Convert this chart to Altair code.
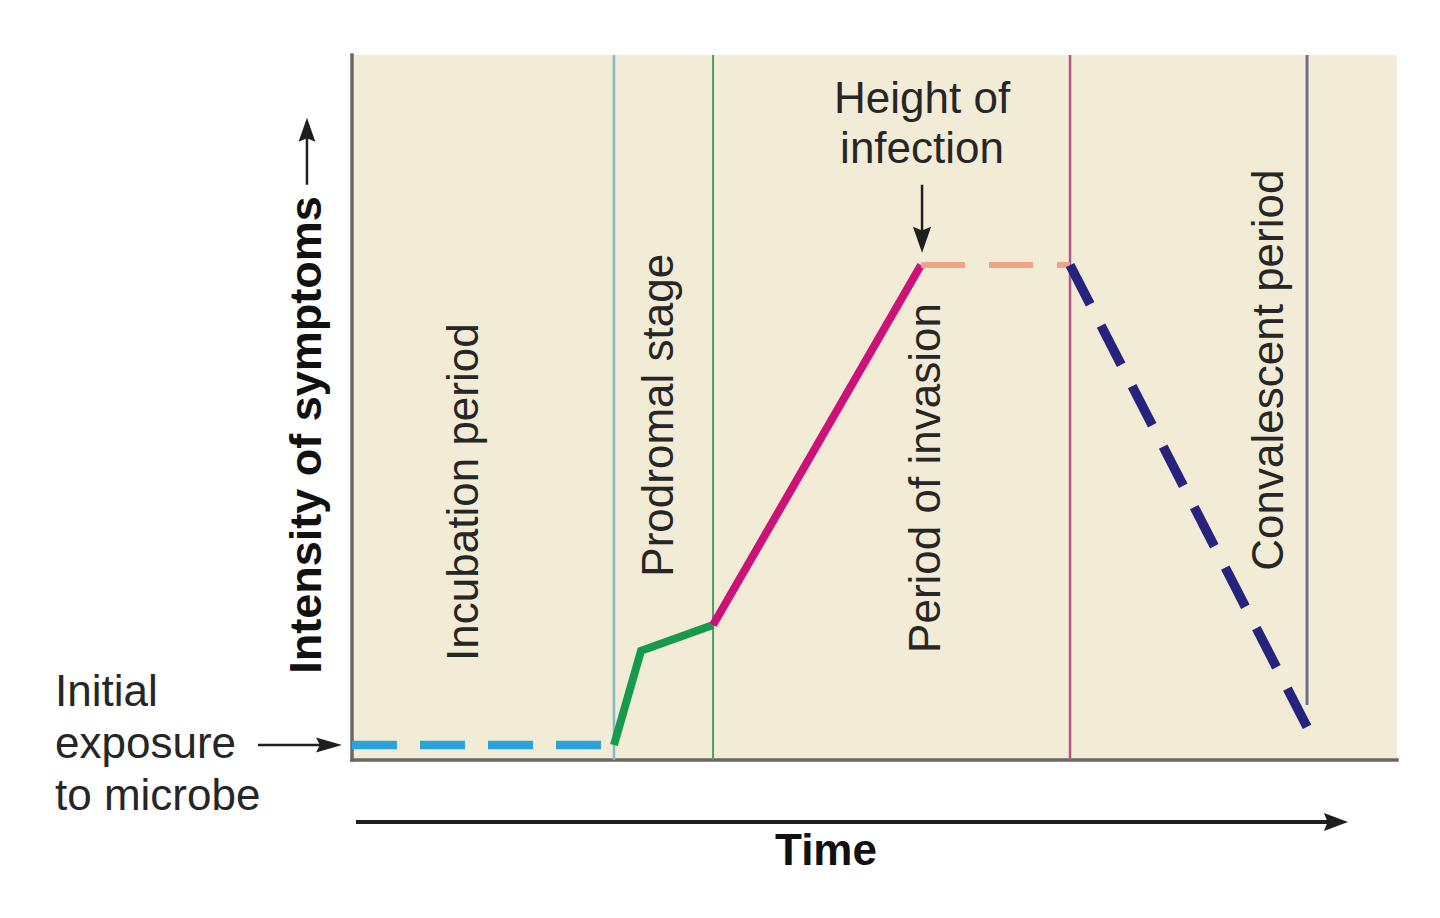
import altair as alt
import pandas as pd

# ---- data (time 0-100, intensity 0-100) ----
phase_t = [25.07, 34.55, 68.71, 91.39]
phase_top = [100, 100, 100, 100]
phase_bottom = [0, 0, 0, 7.8]
phase_colors = ["#86b9c2", "#4f9e68", "#b8528a", "#6f6f8c"]
phase_widths = [2.5, 2, 2.5, 3]

seg_t = [[0, 25.07], [25.07, 27.66, 34.55], [34.55, 54.45], [54.45, 68.71], [68.71, 91.39]]
seg_v = [[2.13, 2.13], [2.13, 15.5, 19.15], [19.15, 70.2], [70.2, 70.2], [70.2, 4.7]]
seg_colors = ["#2aa3d8", "#169a4c", "#cc1278", "#f0a487", "#25237e"]
seg_dash = [[45, 23], [1, 0], [1, 0], [44, 24], [44, 24]]
seg_widths = [8.5, 8, 8, 6, 9.5]

stage_labels = ["Incubation period", "Prodromal stage", "Period of invasion", "Convalescent period"]
stage_t = [10.81, 29.47, 55.0, 87.85]
stage_v = [38.0, 48.9, 40.0, 55.3]

peak_lines = ["Height of", "infection"]
peak_t = [54.55, 54.55]
peak_v = [93.6, 86.5]

exposure_lines = ["Initial", "exposure", "to microbe"]
exposure_t = [-28.42, -28.42, -28.42]
exposure_v = [9.5, 2.13, -5.25]

ylabel = "Intensity of symptoms"
ylabel_t, ylabel_v = -4.31, 46.1
xlabel = "Time"
xlabel_t, xlabel_v = 45.36, -13.05

# arrows: shaft (t, v, t2, v2) and head (t, v, shape)
arrow_shafts = pd.DataFrame({
    "t": [-9.0, 54.55, -4.31, 0.38],
    "v": [2.13, 81.6, 81.6, -8.8],
    "t2": [-2.3, 54.55, -4.31, 94.2],
    "v2": [2.13, 73.8, 89.6, -8.8],
    "w": [2.5, 2.5, 2.5, 4],
})
head_right = "M-1,-0.58L1,0L-1,0.58L-0.7,0Z"
head_down = "M-0.7,-1L0,1L0.7,-1L0,-0.7Z"
head_up = "M-0.7,1L0,-1L0.7,1L0,0.7Z"
head_right_big = "M-1,-0.75L1,0L-1,0.75L-0.7,0Z"
arrow_heads_t = [-2.2, 54.55, -4.31, 94.16]
arrow_heads_v = [2.13, 73.8, 89.4, -8.8]
arrow_heads_shape = [head_right, head_down, head_up, head_right_big]
arrow_heads_size = [676, 676, 576, 576]

# ---- chart ----
X = lambda f: alt.X(f, type="quantitative", scale=alt.Scale(domain=[0, 100], nice=False, zero=False), axis=None)
Y = lambda f: alt.Y(f, type="quantitative", scale=alt.Scale(domain=[0, 100], nice=False, zero=False), axis=None)
FONT = "Liberation Sans"
TXT = "#262626"
FS = 44

layers = []

# axes lines
axes_df = pd.DataFrame({"t": [0, 0], "v": [0, 0], "t2": [0, 100], "v2": [100, 0]})
layers.append(alt.Chart(axes_df).mark_rule(color="#6b6862", strokeWidth=3.5, strokeCap="square").encode(
    x=X("t"), y=Y("v"), x2="t2", y2="v2"))

# phase boundaries
for t, top, bot, c, w in zip(phase_t, phase_top, phase_bottom, phase_colors, phase_widths):
    df = pd.DataFrame({"t": [t], "v": [bot], "v2": [top]})
    layers.append(alt.Chart(df).mark_rule(color=c, strokeWidth=w).encode(x=X("t"), y=Y("v"), y2="v2"))

# curve segments
for ts, vs, c, d, w in zip(seg_t, seg_v, seg_colors, seg_dash, seg_widths):
    df = pd.DataFrame({"t": ts, "v": vs, "o": list(range(len(ts)))})
    kw = dict(color=c, strokeWidth=w, strokeCap="butt", strokeJoin="miter")
    if d != [1, 0]:
        kw["strokeDash"] = d
    layers.append(alt.Chart(df).mark_line(**kw).encode(x=X("t"), y=Y("v"), order="o:Q"))

# arrows
layers.append(alt.Chart(arrow_shafts).mark_rule(color="#1e1e1e").encode(
    x=X("t"), y=Y("v"), x2="t2", y2="v2",
    strokeWidth=alt.StrokeWidth("w:Q", scale=None)))
for t, v, shp, s in zip(arrow_heads_t, arrow_heads_v, arrow_heads_shape, arrow_heads_size):
    df = pd.DataFrame({"t": [t], "v": [v]})
    layers.append(alt.Chart(df).mark_point(shape=shp, size=s, filled=True, color="#1e1e1e", opacity=1, strokeWidth=0).encode(
        x=X("t"), y=Y("v")))

# stage labels (rotated)
stage_df = pd.DataFrame({"t": stage_t, "v": stage_v, "label": stage_labels})
layers.append(alt.Chart(stage_df).mark_text(angle=270, align="center", baseline="middle", font=FONT,
                                            fontSize=FS, color=TXT).encode(x=X("t"), y=Y("v"), text="label:N"))

peak_df = pd.DataFrame({"t": peak_t, "v": peak_v, "label": peak_lines})
layers.append(alt.Chart(peak_df).mark_text(align="center", baseline="middle", font=FONT,
                                           fontSize=FS, color=TXT).encode(x=X("t"), y=Y("v"), text="label:N"))

exp_df = pd.DataFrame({"t": exposure_t, "v": exposure_v, "label": exposure_lines})
layers.append(alt.Chart(exp_df).mark_text(align="left", baseline="middle", font=FONT,
                                          fontSize=FS, color=TXT).encode(x=X("t"), y=Y("v"), text="label:N"))

yl_df = pd.DataFrame({"t": [ylabel_t], "v": [ylabel_v], "label": [ylabel]})
layers.append(alt.Chart(yl_df).mark_text(angle=270, align="center", baseline="middle", font=FONT,
                                         fontSize=45, fontWeight="bold", color="#111111").encode(
    x=X("t"), y=Y("v"), text="label:N"))

xl_df = pd.DataFrame({"t": [xlabel_t], "v": [xlabel_v], "label": [xlabel]})
layers.append(alt.Chart(xl_df).mark_text(align="center", baseline="middle", font=FONT,
                                         fontSize=FS, fontWeight="bold", color="#111111").encode(
    x=X("t"), y=Y("v"), text="label:N"))

chart = alt.layer(*layers).properties(
    width=1045, height=705,
    autosize=alt.AutoSizeParams(type="none"),
    padding={"left": 352, "top": 55, "right": 43, "bottom": 158},
    background="white",
).configure_view(fill="#f2ebd6", stroke=None)

chart.save("out.html", embed_options={"renderer": "svg", "actions": False})
